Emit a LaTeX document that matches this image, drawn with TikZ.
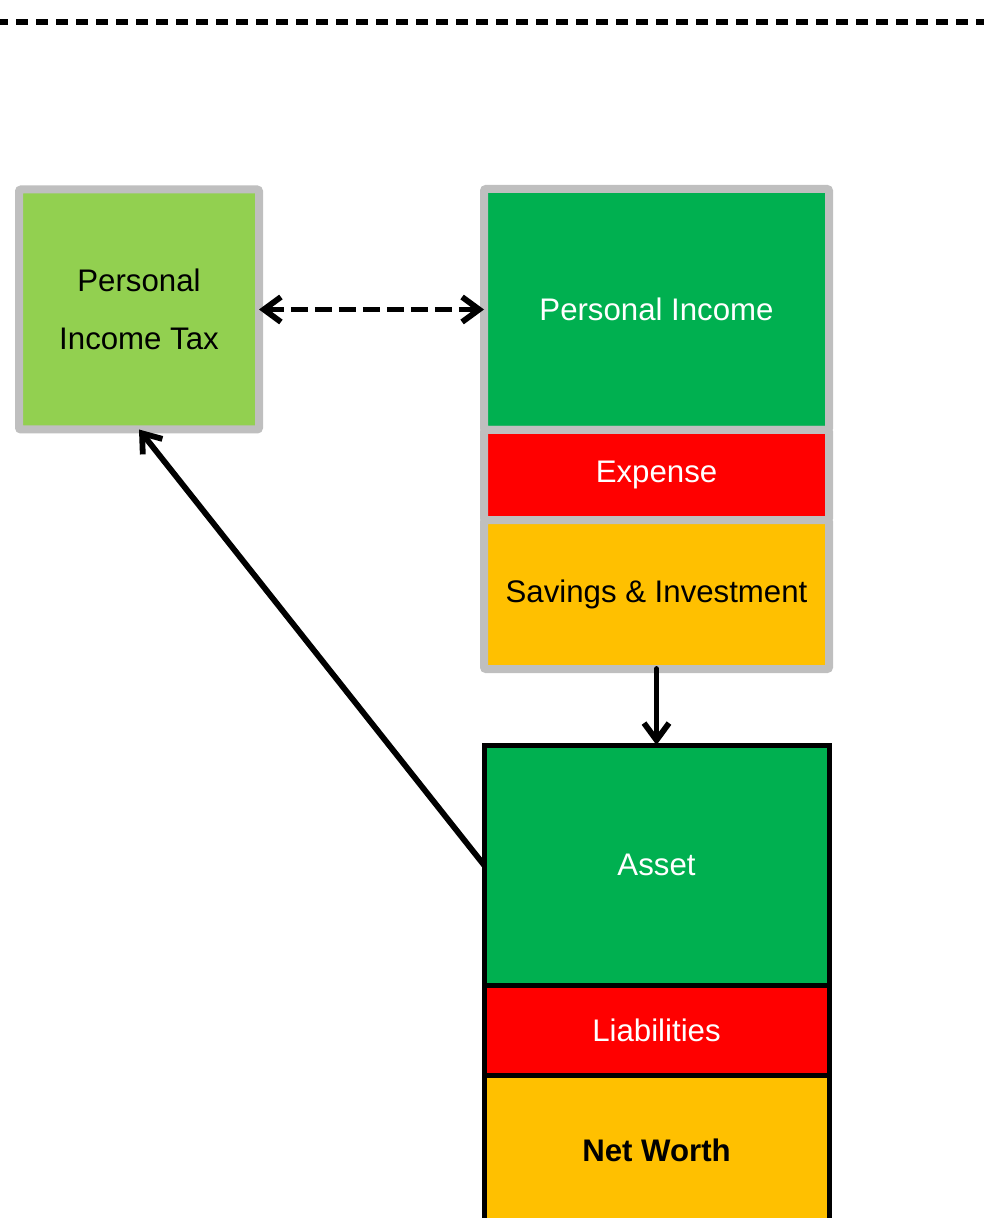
\documentclass[tikz,border=0pt]{standalone}
\usepackage{fontspec}
\setmainfont{Liberation Sans}
\usetikzlibrary{arrows.meta,positioning}

\definecolor{incgreen}{HTML}{00B050}
\definecolor{taxgreen}{HTML}{92D050}
\definecolor{expred}{HTML}{FF0000}
\definecolor{savyellow}{HTML}{FFC000}
\definecolor{boxgray}{HTML}{BFBFBF}

\begin{document}
\begin{tikzpicture}[
        x=0.5pt, y=-0.5pt,
        node distance=0pt,
        every node/.style={align=center, outer sep=0pt, inner sep=2pt, font=\fontsize{15.6}{29}\selectfont},
        flowbox/.style={draw=boxgray, line width=4pt, rounded corners=1pt, minimum width=172.5pt},
        stockbox/.style={draw=black, line width=2.5pt, minimum width=172.5pt},
        barb/.style={Straight Barb[length=8.5pt,width=12.5pt]},
        link/.style={line width=2.9pt, line cap=round, line join=round, -{Straight Barb[length=8.5pt,width=12.5pt]}}
    ]

    \useasboundingbox (0,0) rectangle (984,1218);
    \clip (0,0) rectangle (984,1218);

    % Divider
    \draw[line width=2.9pt, dash pattern=on 6pt off 4pt, dash phase=2pt] (0,22) -- (984,22);

    % Nodes
    \node (tax)[flowbox, fill=taxgreen, minimum width=120pt, minimum height=120pt] at (139,309.5) {Personal\\Income Tax};

    \node (income)[flowbox, fill=incgreen, text=white, minimum height=120.5pt] at (656.5,309.5) {Personal Income};
    \node (expense)[flowbox, fill=expred, text=white, minimum height=45pt, below=of income] {\raisebox{-2pt}{Expense}};
    \node (savings)[flowbox, fill=savyellow, minimum height=74.5pt, below=of expense] {\raisebox{-2pt}{Savings \& Investment}};

    \node (asset)[stockbox, fill=incgreen, text=white, minimum height=120pt] at (656.5,865) {Asset};
    \node (liab)[stockbox, fill=expred, text=white, minimum height=45.25pt, below=of asset] {Liabilities};
    \node (networth)[stockbox, fill=savyellow, minimum height=75pt, below=of liab] {\textbf{Net Worth}};

    % Edges
    \draw[link, {Straight Barb[length=8.5pt,width=12.5pt]}-{Straight Barb[length=8.5pt,width=12.5pt]}, dash pattern=on 8.5pt off 3.5pt, line cap=butt] (tax) -- (income);
    \draw[link] (savings) -- (asset);
    \draw[link] (asset.west) -- (tax.south);

\end{tikzpicture}
\end{document}
